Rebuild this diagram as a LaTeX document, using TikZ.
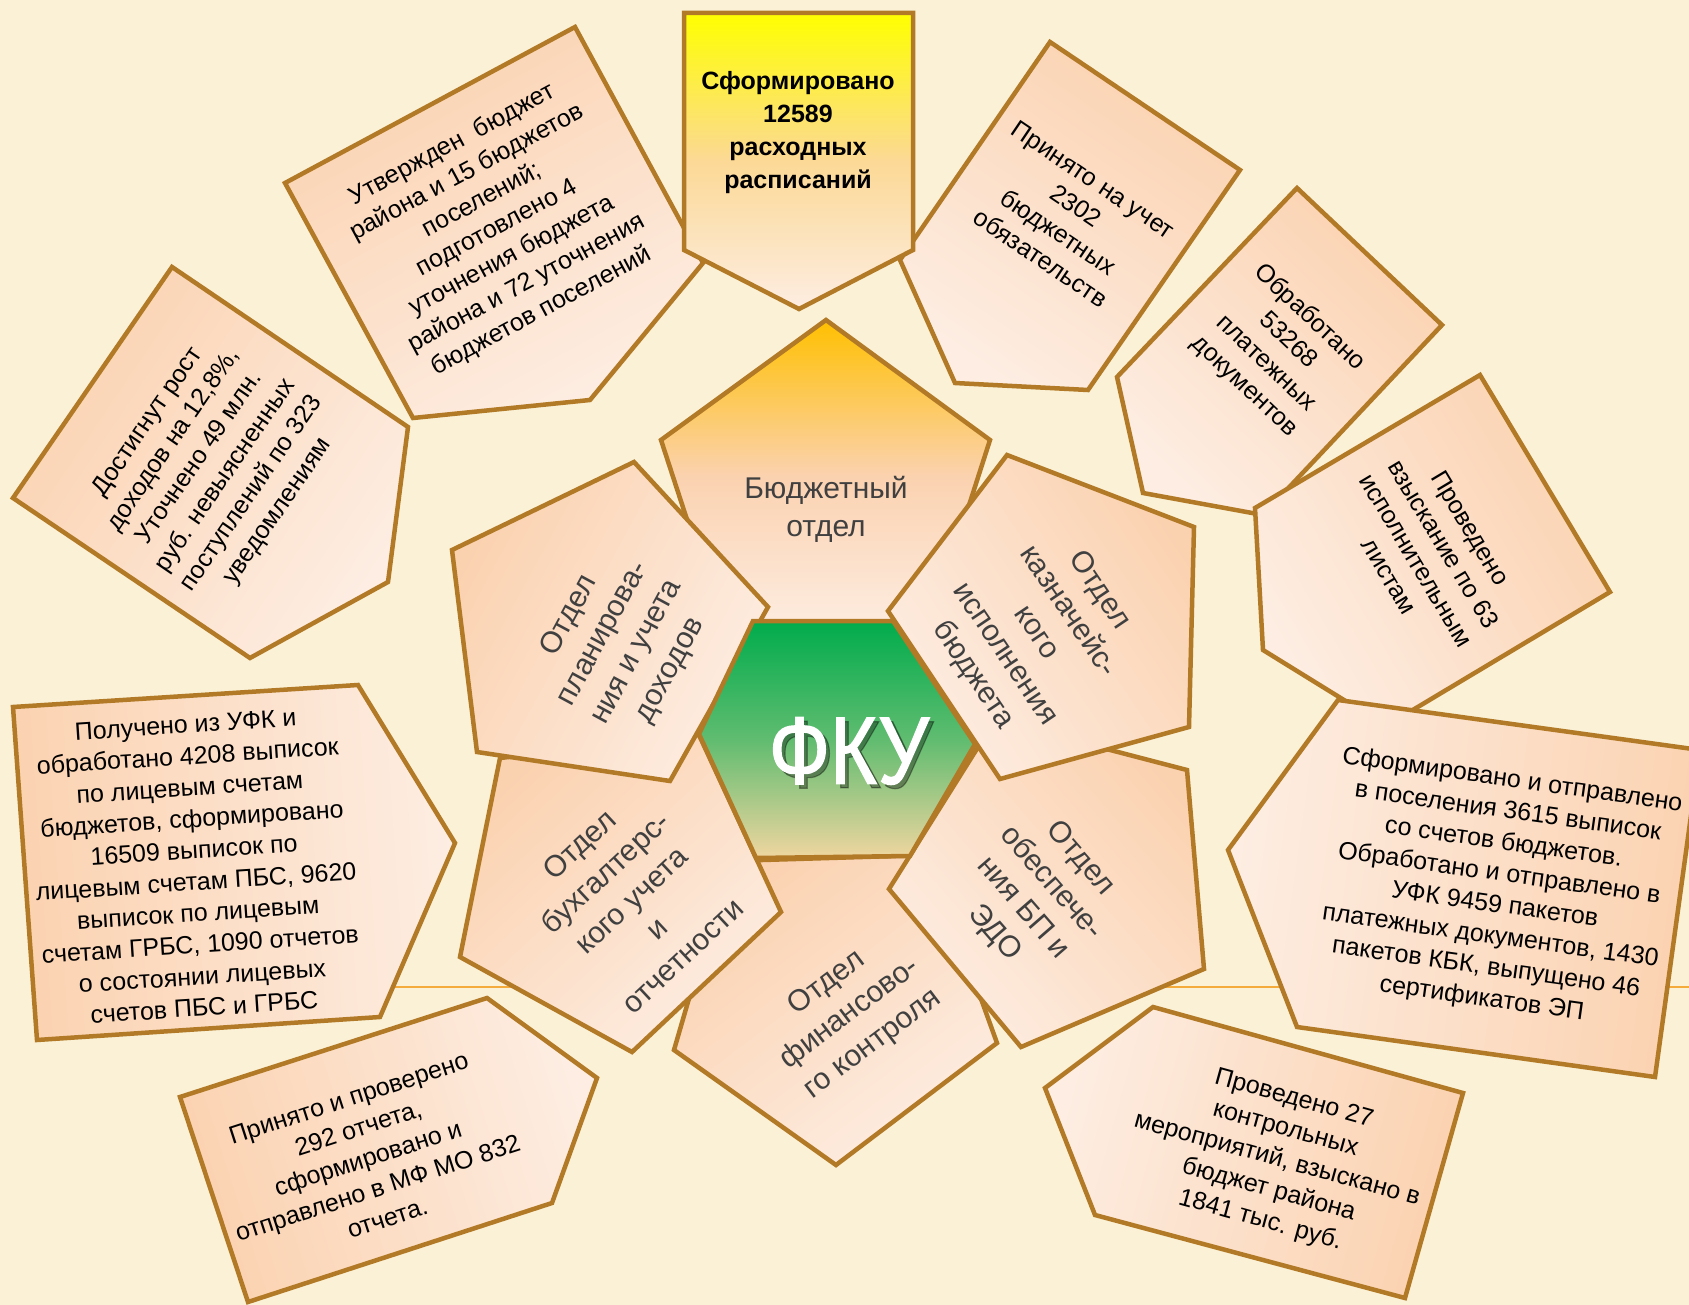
\documentclass[tikz,border=0pt]{standalone}
\usepackage{fontspec}
\setmainfont{Liberation Sans}
\newfontfamily\fkufont[FakeStretch=0.84,FakeBold=1.2]{Liberation Sans}
\definecolor{bgc}{RGB}{250,241,215}
\definecolor{edgec}{RGB}{178,122,38}
\definecolor{peachD}{RGB}{251,210,176}
\definecolor{peachL}{RGB}{253,237,226}
\definecolor{gold}{RGB}{255,192,0}
\definecolor{yel}{RGB}{255,255,0}
\definecolor{grn}{RGB}{0,172,76}
\definecolor{grnM}{RGB}{96,188,112}
\definecolor{sand}{RGB}{240,214,160}
\definecolor{linec}{RGB}{245,170,60}
\definecolor{txtgray}{RGB}{64,64,64}
\begin{document}
\begin{tikzpicture}[x=1pt,y=-1pt,
  shp/.style={draw=edgec, line width=4.5pt, line join=miter},
  pch/.style={shp, top color=peachD, bottom color=peachL, shading angle=#1},
  otxt/.style={align=center, inner sep=0pt, text=black, font=\fontsize{25}{31.5}\selectfont},
  itxt/.style={align=center, inner sep=0pt, text=txtgray, font=\fontsize{30}{38}\selectfont},
]
\useasboundingbox (0,0) rectangle (1689,1305);
\clip (0,0) rectangle (1689,1305);
\fill[bgc] (0,0) rectangle (1689,1305);
% decorative line
\coordinate (lineL) at (380,987);
\coordinate (lineR) at (1689,987);
\draw[linec, line width=2pt] (lineL) -- (lineR);

% ---------- outer shapes ----------
% I
\shade[pch=-43.8] (1297,188) -- (1442,325) -- (1263,515) -- (1143,493) -- (1117,377) -- cycle;
% H
\shade[pch=-59.4] (1480,375) -- (1610,592) -- (1386,726) -- (1263,650) -- (1255,508) -- cycle;
% G
\shade[pch=-98] (1228,850) -- (1338,700) -- (1700,750) -- (1655,1077) -- (1297,1027) -- cycle;
% J
\shade[pch=-34.4] (1050,42) -- (1240,170) -- (1088,390) -- (955,383) -- (900,260) -- cycle;
% B
\shade[pch=28.5] (285,183) -- (575,27) -- (703,263) -- (590,400) -- (413,418) -- cycle;
% A
\shade[shp, top color=yel, bottom color=peachL, middle color=peachD!85!yel]
  (684,13) -- (913,13) -- (913,250) -- (799,309) -- (684,250) -- cycle;
% C
\shade[pch=56] (13,498) -- (172,267) -- (408,427) -- (388,582) -- (250,658) -- cycle;
% D
\shade[pch=94] (13,707) -- (358,685) -- (455,843) -- (380,1017) -- (37,1040) -- cycle;
% E
\shade[pch=107.7] (180,1097) -- (487,998) -- (597,1078) -- (552,1203) -- (248,1302) -- cycle;
% F
\shade[pch=-105.4] (1045,1088) -- (1153,1007) -- (1463,1093) -- (1405,1298) -- (1095,1215) -- cycle;

% ---------- outer texts ----------
\node[otxt, font=\bfseries\fontsize{25}{33}\selectfont] (tA) at (798,133)
  {Сформировано\\12589\\расходных\\расписаний};
\node[otxt, rotate=28.3] (tB) at (497,228)
  {Утвержден\ \ бюджет\\района и 15 бюджетов\\поселений;\\подготовлено 4\\уточнения бюджета\\района и 72 уточнения\\бюджетов поселений};
\node[otxt, rotate=55.5] (tC) at (213,467)
  {Достигнут рост\\доходов на 12,8\%,\\Уточнено 49 млн.\\руб. невыясненных\\поступлений по 323\\уведомлениям};
\node[otxt, rotate=3.8] (tD) at (195,866)
  {Получено из УФК и\\обработано 4208 выписок\\по лицевым счетам\\бюджетов, сформировано\\16509 выписок по\\лицевым счетам ПБС, 9620\\выписок по лицевым\\счетам ГРБС, 1090 отчетов\\о состоянии лицевых\\счетов ПБС и ГРБС};
\node[otxt, rotate=17.9] (tE) at (368,1158)
  {Принято и проверено\\292 отчета,\\сформировано и\\отправлено в МФ МО 832\\отчета.};
\node[otxt, rotate=-15.5] (tF) at (1277,1160)
  {Проведено 27\\контрольных\\мероприятий, взыскано в\\бюджет района\\1841 тыс. руб.};
\node[otxt, rotate=-8] (tG) at (1497,890)
  {Сформировано и отправлено\\в поселения 3615 выписок\\со счетов бюджетов.\\Обработано и отправлено в\\УФК 9459 пакетов\\платежных документов, 1430\\пакетов КБК, выпущено 46\\сертификатов ЭП};
\node[otxt, rotate=-59.1] (tH) at (1430,552)
  {Проведено\\взыскание по 63\\исполнительным\\листам};
\node[otxt, rotate=-43.4] (tI) at (1277,352)
  {Обработано\\53268\\платежных\\документов};
\node[otxt, rotate=-34] (tJ) at (1067,219)
  {Принято на учет\\2302\\бюджетных\\обязательств};

% ---------- inner pentagons ----------
\shade[shp, top color=gold, bottom color=peachL, middle color=peachD]
  (826,320) -- (990,440) -- (928,633) -- (724,633) -- (661,440) -- cycle;
\shade[pch=37] (729,861) -- (929,855) -- (997,1043) -- (836,1165) -- (674,1050) -- cycle;
\shade[pch=43] (500,758) -- (699,735) -- (781,912) -- (632,1052) -- (460,957) -- cycle;
\shade[pch=-49] (995,720) -- (1187,770) -- (1204,969) -- (1021,1047) -- (889,889) -- cycle;
\shade[pch=61.6] (634,462) -- (768,607) -- (670,781) -- (477,752) -- (452,550) -- cycle;
\shade[pch=-56] (1007,455) -- (1194,527) -- (1189,727) -- (1000,779) -- (888,611) -- cycle;

\node[itxt] (dBud) at (826,509) {Бюджетный\\отдел};
\node[itxt, rotate=37] (dFin) at (850,1014) {Отдел\\финансово-\\го контроля};
\node[itxt, rotate=43] (dBuh) at (631,900) {Отдел\\бухгалтерс-\\кого учета\\и\\отчетности};
\node[itxt, rotate=-49] (dObe) at (1037,896) {Отдел\\обеспече-\\ния БП и\\ЭДО};
\node[itxt, rotate=61.6] (dPla) at (620,643) {Отдел\\планирова-\\ния и учета\\доходов};
\node[itxt, rotate=-56] (dKaz) at (1036,633) {Отдел\\казначейс-\\кого\\исполнения\\бюджета};

% ---------- hexagon ----------
\shade[shp, top color=grn, bottom color=sand, middle color=grnM]
  (753,621) -- (893,621) -- (975,744) -- (910,856) -- (756,858) -- (699,734) -- cycle;
\node[text=black, opacity=0.35, font=\fkufont\fontsize{96}{96}\selectfont, inner sep=0pt] (fkush) at (853,755) {ФКУ};
\node[text=white, font=\fkufont\fontsize{96}{96}\selectfont, inner sep=0pt] (fku) at (849,751) {ФКУ};
\end{tikzpicture}
\end{document}
